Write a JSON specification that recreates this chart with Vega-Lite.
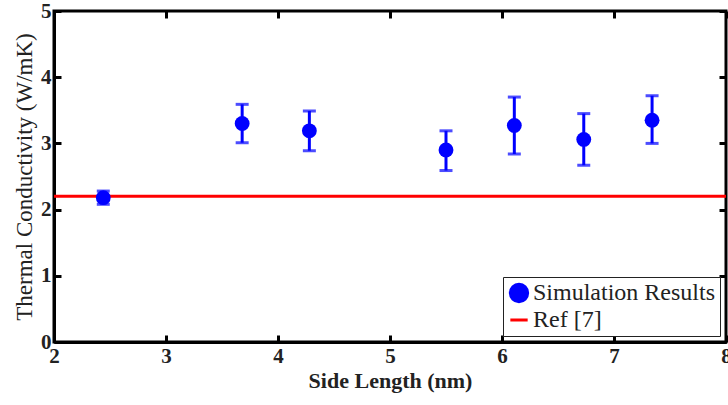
{
  "$schema": "https://vega.github.io/schema/vega-lite/v6.json",
  "width": 672,
  "height": 331,
  "autosize": {"type": "none"},
  "padding": {"left": 54, "top": 11, "right": 2, "bottom": 63},
  "background": "white",
  "config": {
    "view": {"stroke": "black", "strokeWidth": 3},
    "font": "Liberation Serif, Times New Roman, serif",
    "axis": {
      "domainColor": "black", "domainWidth": 3,
      "tickColor": "black", "tickWidth": 3, "tickSize": -7,
      "labelFont": "Liberation Serif, Times New Roman, serif", "labelFontSize": 21, "labelFontWeight": "bold", "labelColor": "#222",
      "labelFlush": false,
      "titleFont": "Liberation Serif, Times New Roman, serif", "titleFontSize": 22, "titleColor": "#222",
      "grid": false
    }
  },
  "datasets": {
    "sim": [
      {"side": 2.44, "k": 2.18, "lo": 2.08, "hi": 2.28, "series": "Simulation Results"},
      {"side": 3.68, "k": 3.30, "lo": 3.01, "hi": 3.59, "series": "Simulation Results"},
      {"side": 4.28, "k": 3.19, "lo": 2.89, "hi": 3.49, "series": "Simulation Results"},
      {"side": 5.50, "k": 2.90, "lo": 2.59, "hi": 3.19, "series": "Simulation Results"},
      {"side": 6.11, "k": 3.27, "lo": 2.84, "hi": 3.70, "series": "Simulation Results"},
      {"side": 6.73, "k": 3.06, "lo": 2.67, "hi": 3.45, "series": "Simulation Results"},
      {"side": 7.34, "k": 3.35, "lo": 3.00, "hi": 3.72, "series": "Simulation Results"}
    ],
    "ref": [
      {"k": 2.2, "series": "Ref [7]"}
    ]
  },
  "resolve": {"axis": {"x": "independent", "y": "independent"}},
  "layer": [
    {
      "data": {"name": "ref"},
      "mark": {"type": "rule", "strokeWidth": 3},
      "encoding": {
        "y": {"field": "k", "type": "quantitative", "scale": {"domain": [0, 5], "nice": false, "zero": false},
              "axis": {"values": [0, 1, 2, 3, 4, 5], "format": "d", "title": "Thermal Conductivity (W/mK)", "titleFontWeight": "normal", "titleFontSize": 23, "labelPadding": 10, "titlePadding": 4}},
        "color": {"field": "series", "type": "nominal",
                  "scale": {"domain": ["Simulation Results", "Ref [7]"], "range": ["#0000ff", "#ff0000"]},
                  "legend": {
                    "title": null, "orient": "bottom-right", "offset": 6,
                    "strokeColor": "#222", "fillColor": "white", "padding": 4,
                    "labelFont": "Liberation Serif, Times New Roman, serif", "labelFontSize": 24, "labelColor": "#222", "labelLimit": 400,
                    "symbolSize": 300, "symbolStrokeWidth": 3, "rowPadding": 0, "labelOffset": 2,
                    "encode": {"symbols": {"update": {"stroke": {"scale": "color", "field": "value"}}}}
                  }}
      }
    },
    {
      "data": {"name": "sim"},
      "mark": {"type": "rule", "strokeWidth": 3},
      "encoding": {
        "x": {"field": "side", "type": "quantitative", "scale": {"domain": [2, 8], "nice": false, "zero": false},
              "axis": {"orient": "top", "values": [2, 3, 4, 5, 6, 7, 8], "labels": false, "title": null, "domain": false}},
        "y": {"field": "lo", "type": "quantitative", "scale": {"domain": [0, 5], "nice": false, "zero": false},
              "axis": {"orient": "right", "values": [0, 1, 2, 3, 4, 5], "labels": false, "title": null, "domain": false}},
        "y2": {"field": "hi"},
        "color": {"field": "series", "type": "nominal"}
      }
    },
    {
      "data": {"name": "sim"},
      "mark": {"type": "tick", "thickness": 3, "size": 13, "orient": "horizontal"},
      "encoding": {
        "x": {"field": "side", "type": "quantitative", "scale": {"domain": [2, 8], "nice": false, "zero": false}, "axis": null},
        "y": {"field": "lo", "type": "quantitative", "axis": null},
        "color": {"field": "series", "type": "nominal"}
      }
    },
    {
      "data": {"name": "sim"},
      "mark": {"type": "tick", "thickness": 3, "size": 13, "orient": "horizontal"},
      "encoding": {
        "x": {"field": "side", "type": "quantitative", "scale": {"domain": [2, 8], "nice": false, "zero": false}, "axis": null},
        "y": {"field": "hi", "type": "quantitative", "axis": null},
        "color": {"field": "series", "type": "nominal"}
      }
    },
    {
      "data": {"name": "sim"},
      "mark": {"type": "point", "filled": true, "opacity": 1},
      "encoding": {
        "x": {"field": "side", "type": "quantitative", "scale": {"domain": [2, 8], "nice": false, "zero": false},
              "axis": {"values": [2, 3, 4, 5, 6, 7, 8], "format": "d", "title": "Side Length (nm)", "titleFontWeight": "bold", "labelPadding": 10, "titlePadding": 4}},
        "y": {"field": "k", "type": "quantitative", "axis": null},
        "color": {"field": "series", "type": "nominal"},
        "shape": {"field": "series", "type": "nominal",
                  "scale": {"domain": ["Simulation Results", "Ref [7]"], "range": ["circle", "stroke"]}},
        "size": {"value": 220}
      }
    }
  ]
}
